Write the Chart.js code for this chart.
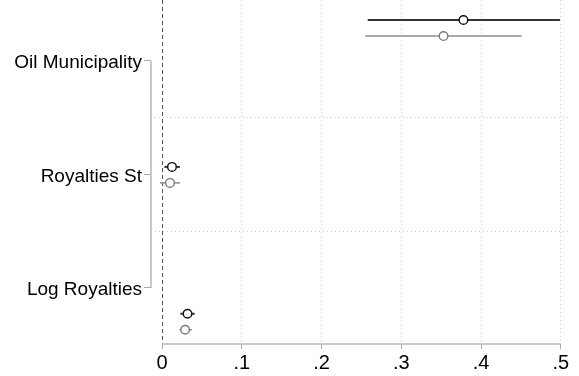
<!DOCTYPE html>
<html>
<head>
<meta charset="utf-8">
<script src="https://cdn.jsdelivr.net/npm/chart.js@4"></script>
<style>
  html, body { margin: 0; padding: 0; background: #fff; }
</style>
</head>
<body>
<canvas id="coefChart" width="579" height="376"></canvas>
<script>
// coefficient estimates with confidence intervals, one row per variable
const categories = ['Oil Municipality', 'Royalties St', 'Log Royalties'];

const blackEst = [0.378, 0.0125, 0.032];
const blackLo  = [0.258, 0.003, 0.023];
const blackHi  = [0.499, 0.0225, 0.041];

const grayEst = [0.353, 0.010, 0.029];
const grayLo  = [0.255, -0.0025, 0.022];
const grayHi  = [0.451, 0.0225, 0.0375];

const xTicks = [0, 0.1, 0.2, 0.3, 0.4, 0.5];

// row placement (coefplot puts markers on a wider spacing than the labels)
const rowStart = 0.639, rowStep = 1.294, seriesGap = 0.141;
function rowPos(k, s) { return rowStart + k * rowStep + s * seriesGap; }

const series = [
    { est: blackEst, lo: blackLo, hi: blackHi, color: '#111', ciColor: '#333', ciWidth: 2 },
    { est: grayEst, lo: grayLo, hi: grayHi, color: '#7a7a7a', ciColor: '#8c8c8c', ciWidth: 1.5 }
];

const datasets = [];
series.forEach((s, si) => {
    datasets.push({
        data: s.est.map((v, k) => ({ x: v, y: rowPos(k, si) })),
        pointRadius: 4.3,
        pointBorderWidth: 1.4,
        pointBackgroundColor: '#fff',
        pointBorderColor: s.color,
        showLine: false,
        order: 0
    });
    s.est.forEach((v, k) => {
        datasets.push({
            data: [{ x: s.lo[k], y: rowPos(k, si) }, { x: s.hi[k], y: rowPos(k, si) }],
            showLine: true,
            borderColor: s.ciColor,
            borderWidth: s.ciWidth,
            pointRadius: 0,
            order: 1
        });
    });
});

const axisLines = {
    id: 'axisLines',
    beforeDatasetsDraw(chart) {
        const { ctx, chartArea, scales: { x, y } } = chart;
        ctx.save();
        // zero reference line
        ctx.strokeStyle = '#555';
        ctx.lineWidth = 1;
        ctx.setLineDash([4, 3]);
        ctx.beginPath();
        ctx.moveTo(Math.round(x.getPixelForValue(0)) + 0.5, chartArea.top);
        ctx.lineTo(Math.round(x.getPixelForValue(0)) + 0.5, chartArea.bottom);
        ctx.stroke();
        ctx.setLineDash([]);
        // axis lines spanning only the tick range
        ctx.strokeStyle = '#b8b8b8';
        ctx.lineWidth = 1.5;
        ctx.beginPath();
        ctx.moveTo(chartArea.left, y.getPixelForValue(1));
        ctx.lineTo(chartArea.left, y.getPixelForValue(categories.length));
        ctx.moveTo(x.getPixelForValue(xTicks[0]), chartArea.bottom);
        ctx.lineTo(x.getPixelForValue(xTicks[xTicks.length - 1]), chartArea.bottom);
        ctx.stroke();
        ctx.restore();
    }
};

const isRow = v => Math.abs(v - Math.round(v)) < 1e-6;

new Chart(document.getElementById('coefChart'), {
    type: 'scatter',
    data: { datasets },
    options: {
        responsive: false,
        animation: false,
        clip: false,
        layout: { autoPadding: false, padding: { top: 0, right: 9, left: 0, bottom: 0 } },
        plugins: { legend: { display: false }, tooltip: { enabled: false } },
        scales: {
            x: {
                type: 'linear',
                min: -0.0138,
                max: 0.5116,
                afterBuildTicks: axis => { axis.ticks = xTicks.map(v => ({ value: v })); },
                afterFit: axis => { axis.height = 32; axis.paddingLeft = 0; axis.paddingRight = 0; },
                border: { display: false, dash: [1, 3] },
                grid: {
                    color: c => (c.tick && c.tick.value === 0) ? 'rgba(0,0,0,0)' : '#d0d0d0',
                    tickBorderDash: [],
                    tickColor: '#aaa',
                    tickLength: 5
                },
                ticks: {
                    color: '#000',
                    padding: 2,
                    font: { family: "'Liberation Sans', Arial, sans-serif", size: 20 },
                    callback: v => v === 0 ? '0' : String(+v.toFixed(2)).replace(/^0/, '')
                }
            },
            y: {
                type: 'linear',
                reverse: true,
                min: 0.4626,
                max: 3.4934,
                afterBuildTicks: axis => {
                    const t = [];
                    for (let i = 1; i <= categories.length; i++) {
                        t.push({ value: i });
                        if (i < categories.length) t.push({ value: i + 0.5 });
                    }
                    axis.ticks = t;
                },
                afterFit: axis => { axis.width = 151; axis.paddingTop = 0; axis.paddingBottom = 0; },
                border: { display: false, dash: [1, 3] },
                grid: {
                    color: c => (c.tick && !isRow(c.tick.value)) ? '#d0d0d0' : 'rgba(0,0,0,0)',
                    tickBorderDash: [],
                    tickColor: c => (c.tick && isRow(c.tick.value)) ? '#aaa' : 'rgba(0,0,0,0)',
                    tickLength: 7
                },
                ticks: {
                    color: '#000',
                    padding: 2,
                    labelOffset: 2,
                    autoSkip: false,
                    font: { family: "'Liberation Sans', Arial, sans-serif", size: 19 },
                    callback: v => isRow(v) ? categories[Math.round(v) - 1] : ''
                }
            }
        }
    },
    plugins: [axisLines]
});
</script>
</body>
</html>
